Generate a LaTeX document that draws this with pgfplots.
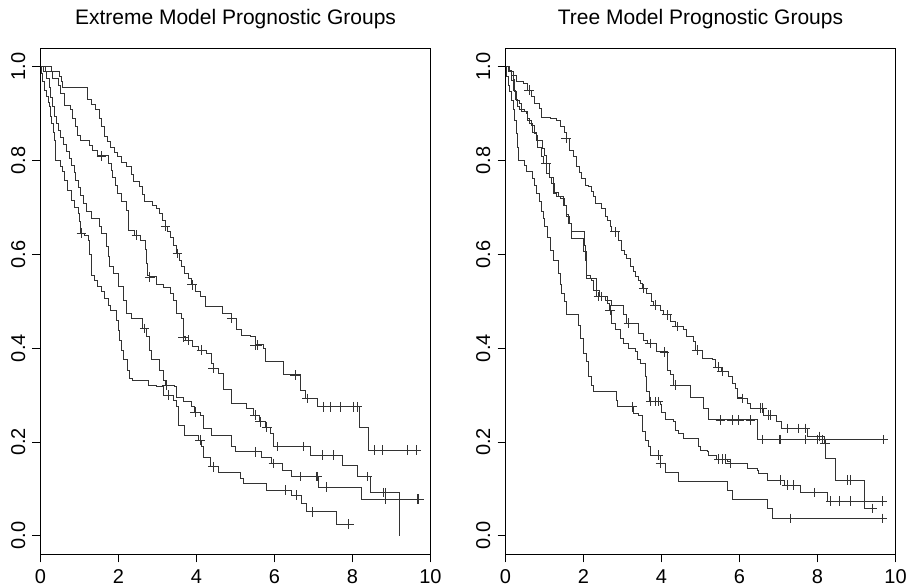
\documentclass[border=0pt]{standalone}
\usepackage{fontspec}
\setmainfont{Liberation Sans}
\usepackage{pgfplots}
\pgfplotsset{compat=1.18}
\pgfplotsset{
  km/.style={const plot, no marks, black!80, line width=0.8pt},
  cens/.style={only marks, mark=+, mark size=4.8pt, black!80, mark options={line width=0.7pt}},
  rpanel/.style={
    scale only axis, width=390pt, height=506.5pt,
    xmin=0, xmax=10, ymin=-0.04, ymax=1.04,
    xtick={0,2,4,6,8,10}, ytick={0,0.2,0.4,0.6,0.8,1.0},
    xtick pos=bottom, ytick pos=left,
    tick align=outside, major tick length=8pt,
    tick style={black, line width=0.8pt},
    axis line style={black, line width=0.9pt},
    /pgf/number format/assume math mode=true,
    yticklabel={\pgfmathprintnumber[fixed, fixed zerofill, precision=1]{\tick}},
    ticklabel style={font=\fontsize{20}{24}\selectfont},
    xticklabel style={inner sep=0pt, anchor=north, yshift=-7pt},
    yticklabel style={inner sep=0pt, xshift=-7pt, rotate=90, anchor=south},
    title style={font=\fontsize{21}{24}\selectfont, at={(0.5,1)}, anchor=base, yshift=17pt},
  }
}
\begin{document}
\begin{tikzpicture}
\useasboundingbox (0,0) rectangle (906pt,588pt);
\begin{axis}[rpanel, at={(40.5pt,33.5pt)}, anchor=south west, title={Extreme Model Prognostic Groups}]
% A
\addplot[km] coordinates {(0,1) (0.27,0.99) (0.49,0.98) (0.53,0.968) (0.57,0.957) (1.19,0.93) (1.30,0.92) (1.40,0.91) (1.50,0.89) (1.55,0.872) (1.63,0.851) (1.72,0.84) (1.80,0.829) (1.90,0.818) (1.97,0.808) (2.07,0.797) (2.20,0.787) (2.32,0.77) (2.37,0.755) (2.54,0.744) (2.62,0.728) (2.67,0.712) (2.88,0.705) (2.97,0.697) (3.06,0.688) (3.13,0.672) (3.19,0.659) (3.26,0.648) (3.32,0.637) (3.40,0.62) (3.49,0.602) (3.55,0.588) (3.62,0.574) (3.70,0.56) (3.80,0.548) (3.87,0.535) (3.98,0.522) (4.09,0.51) (4.22,0.488) (4.67,0.474) (4.90,0.464) (5.03,0.439) (5.16,0.428) (5.37,0.424) (5.50,0.407) (5.72,0.40) (5.76,0.371) (6.23,0.343) (6.66,0.31) (6.79,0.293) (7.09,0.275) (8.18,0.23) (8.41,0.183) (9.74,0.183)};
\addplot[cens] coordinates {(3.21,0.659) (3.51,0.602) (3.89,0.535) (4.90,0.464) (5.50,0.407) (5.55,0.407) (6.53,0.343) (6.83,0.293) (7.24,0.275) (7.43,0.275) (7.69,0.275) (8.03,0.275) (8.12,0.275) (8.56,0.183) (8.76,0.183) (9.40,0.183) (9.64,0.183)};
% B
\addplot[km] coordinates {(0,1) (0.12,0.99) (0.30,0.975) (0.45,0.96) (0.52,0.943) (0.60,0.918) (0.76,0.908) (0.83,0.89) (0.90,0.872) (0.95,0.854) (1.03,0.843) (1.25,0.833) (1.32,0.822) (1.45,0.81) (1.75,0.794) (1.82,0.78) (1.85,0.765) (1.92,0.748) (1.97,0.73) (2.07,0.712) (2.20,0.694) (2.25,0.652) (2.40,0.641) (2.55,0.63) (2.68,0.61) (2.72,0.58) (2.75,0.556) (2.80,0.552) (2.96,0.535) (3.15,0.53) (3.32,0.517) (3.40,0.502) (3.48,0.474) (3.62,0.463) (3.66,0.424) (3.72,0.417) (3.90,0.403) (4.05,0.396) (4.26,0.389) (4.39,0.367) (4.43,0.357) (4.56,0.346) (4.69,0.311) (4.90,0.282) (5.29,0.272) (5.46,0.257) (5.60,0.243) (5.76,0.232) (5.89,0.218) (5.97,0.19) (6.92,0.172) (7.73,0.149) (8.12,0.126) (8.46,0.092) (9.19,0.0)};
\addplot[cens] coordinates {(1.56,0.81) (2.46,0.641) (2.80,0.552) (3.66,0.424) (3.78,0.417) (4.13,0.396) (4.43,0.357) (5.50,0.257) (5.63,0.243) (5.80,0.232) (6.08,0.19) (6.74,0.19) (7.22,0.172) (7.52,0.172) (8.37,0.126) (8.80,0.092) (8.84,0.092)};
% C
\addplot[km] coordinates {(0,1) (0.08,0.99) (0.15,0.975) (0.22,0.955) (0.26,0.935) (0.30,0.915) (0.36,0.895) (0.40,0.88) (0.45,0.865) (0.52,0.85) (0.58,0.835) (0.66,0.82) (0.74,0.805) (0.80,0.79) (0.86,0.775) (0.90,0.758) (0.96,0.742) (1.03,0.725) (1.10,0.708) (1.17,0.692) (1.30,0.677) (1.52,0.66) (1.55,0.645) (1.68,0.616) (1.73,0.595) (1.77,0.574) (1.86,0.559) (1.99,0.531) (2.12,0.502) (2.20,0.474) (2.33,0.463) (2.62,0.442) (2.72,0.424) (2.80,0.396) (2.85,0.375) (3.06,0.353) (3.14,0.332) (3.20,0.321) (3.44,0.318) (3.49,0.296) (3.66,0.286) (3.87,0.275) (3.94,0.264) (4.09,0.257) (4.17,0.229) (4.39,0.215) (4.90,0.19) (4.99,0.179) (5.67,0.168) (5.93,0.154) (6.19,0.14) (6.44,0.126) (7.13,0.104) (8.24,0.078) (9.74,0.078)};
\addplot[cens] coordinates {(2.67,0.442) (3.23,0.321) (3.96,0.264) (5.50,0.179) (5.97,0.154) (6.66,0.126) (7.07,0.126) (7.10,0.126) (7.32,0.104) (8.84,0.078) (9.66,0.078) (9.70,0.078)};
% D
\addplot[km] coordinates {(0,1) (0.03,0.985) (0.06,0.968) (0.10,0.95) (0.15,0.936) (0.20,0.925) (0.23,0.915) (0.26,0.895) (0.28,0.879) (0.32,0.86) (0.36,0.844) (0.38,0.801) (0.50,0.787) (0.57,0.776) (0.62,0.758) (0.70,0.737) (0.79,0.716) (0.87,0.701) (0.96,0.687) (1.00,0.67) (1.03,0.645) (1.13,0.641) (1.22,0.63) (1.26,0.6) (1.30,0.556) (1.39,0.545) (1.47,0.531) (1.56,0.52) (1.64,0.506) (1.73,0.492) (1.80,0.481) (1.95,0.46) (1.99,0.438) (2.03,0.417) (2.08,0.395) (2.12,0.375) (2.24,0.353) (2.29,0.336) (2.36,0.332) (2.76,0.321) (2.97,0.318) (3.14,0.30) (3.40,0.289) (3.49,0.275) (3.53,0.236) (3.70,0.215) (4.05,0.204) (4.13,0.19) (4.17,0.168) (4.35,0.147) (4.56,0.136) (5.12,0.122) (5.20,0.112) (5.80,0.097) (6.44,0.087) (6.70,0.069) (6.83,0.051) (7.58,0.025) (8.03,0.025)};
\addplot[cens] coordinates {(1.05,0.645) (3.27,0.30) (4.09,0.204) (4.43,0.147) (6.27,0.097) (6.57,0.087) (6.98,0.051) (7.90,0.025)};
\end{axis}
\begin{axis}[rpanel, at={(505.5pt,33.5pt)}, anchor=south west, title={Tree Model Prognostic Groups}]
% E
\addplot[km] coordinates {(0,1) (0.11,0.993) (0.15,0.982) (0.28,0.968) (0.45,0.964) (0.56,0.95) (0.67,0.936) (0.75,0.922) (0.88,0.911) (0.93,0.893) (1.14,0.89) (1.31,0.886) (1.40,0.872) (1.50,0.86) (1.57,0.847) (1.65,0.822) (1.74,0.808) (1.83,0.787) (1.90,0.775) (1.95,0.762) (2.04,0.748) (2.12,0.744) (2.20,0.735) (2.25,0.723) (2.30,0.709) (2.47,0.698) (2.55,0.68) (2.62,0.673) (2.68,0.659) (2.72,0.648) (2.89,0.63) (2.98,0.609) (3.05,0.60) (3.11,0.591) (3.20,0.574) (3.27,0.563) (3.32,0.552) (3.40,0.545) (3.45,0.538) (3.50,0.527) (3.62,0.517) (3.75,0.499) (3.80,0.492) (3.97,0.481) (4.05,0.471) (4.22,0.456) (4.35,0.446) (4.57,0.439) (4.63,0.424) (4.82,0.414) (4.88,0.396) (5.04,0.378) (5.30,0.375) (5.38,0.36) (5.53,0.35) (5.72,0.339) (5.81,0.325) (5.90,0.314) (5.94,0.296) (6.05,0.293) (6.20,0.282) (6.28,0.272) (6.62,0.257) (6.94,0.243) (7.07,0.229) (7.74,0.212) (8.17,0.197) (8.21,0.165) (8.47,0.119) (9.19,0.058) (9.50,0.058)};
\addplot[cens] coordinates {(0.60,0.95) (1.55,0.847) (2.81,0.648) (3.54,0.527) (3.84,0.492) (4.14,0.471) (4.40,0.446) (4.91,0.396) (5.45,0.36) (5.55,0.35) (6.07,0.293) (6.54,0.272) (6.58,0.272) (6.75,0.257) (6.79,0.257) (7.22,0.229) (7.52,0.229) (7.69,0.229) (8.04,0.212) (8.19,0.197) (8.77,0.119) (8.85,0.119) (9.41,0.058)};
% F
\addplot[km] coordinates {(0,1) (0.10,0.99) (0.19,0.972) (0.23,0.947) (0.27,0.929) (0.36,0.922) (0.40,0.904) (0.53,0.901) (0.57,0.886) (0.66,0.876) (0.74,0.858) (0.78,0.843) (0.95,0.825) (1.00,0.81) (1.04,0.794) (1.13,0.765) (1.17,0.751) (1.26,0.733) (1.35,0.723) (1.48,0.705) (1.55,0.685) (1.61,0.666) (1.70,0.648) (2.02,0.62) (2.04,0.588) (2.08,0.556) (2.17,0.549) (2.34,0.524) (2.40,0.51) (2.55,0.502) (2.72,0.492) (3.02,0.471) (3.10,0.453) (3.41,0.431) (3.54,0.417) (3.65,0.41) (3.88,0.392) (4.14,0.353) (4.22,0.343) (4.30,0.321) (4.74,0.296) (5.08,0.272) (5.21,0.247) (6.45,0.205) (9.72,0.205)};
\addplot[cens] coordinates {(1.04,0.794) (2.47,0.51) (3.15,0.453) (3.71,0.41) (4.08,0.392) (4.35,0.321) (5.51,0.247) (5.81,0.247) (5.98,0.247) (6.28,0.247) (6.58,0.205) (7.01,0.205) (7.05,0.205) (7.69,0.205) (7.99,0.205) (8.12,0.205) (9.69,0.205)};
% G
\addplot[km] coordinates {(0,1) (0.08,0.99) (0.15,0.97) (0.20,0.95) (0.25,0.93) (0.30,0.915) (0.36,0.908) (0.49,0.904) (0.57,0.89) (0.62,0.879) (0.70,0.861) (0.79,0.854) (0.83,0.829) (0.92,0.808) (0.96,0.794) (1.05,0.773) (1.13,0.765) (1.22,0.73) (1.30,0.723) (1.42,0.72) (1.52,0.705) (1.57,0.68) (1.65,0.666) (1.70,0.634) (1.99,0.606) (2.08,0.549) (2.21,0.545) (2.25,0.524) (2.33,0.51) (2.60,0.496) (2.66,0.481) (2.72,0.453) (2.81,0.439) (2.94,0.421) (3.02,0.41) (3.15,0.40) (3.32,0.392) (3.37,0.375) (3.45,0.368) (3.58,0.339) (3.62,0.307) (3.70,0.286) (3.97,0.279) (4.01,0.264) (4.09,0.247) (4.31,0.243) (4.35,0.225) (4.44,0.218) (4.57,0.208) (4.95,0.19) (5.00,0.183) (5.17,0.179) (5.21,0.172) (5.40,0.163) (5.68,0.158) (5.77,0.154) (6.20,0.144) (6.45,0.14) (6.49,0.133) (6.71,0.119) (7.14,0.108) (7.57,0.092) (8.25,0.074) (9.75,0.074)};
\addplot[cens] coordinates {(2.38,0.51) (2.68,0.481) (3.72,0.286) (3.84,0.286) (3.92,0.286) (5.47,0.163) (5.56,0.163) (5.64,0.163) (5.77,0.154) (7.05,0.119) (7.22,0.108) (7.39,0.108) (7.91,0.092) (8.34,0.074) (8.55,0.074) (8.85,0.074) (9.67,0.074)};
% H
\addplot[km] coordinates {(0,1) (0.03,0.979) (0.07,0.961) (0.11,0.947) (0.15,0.929) (0.19,0.908) (0.24,0.886) (0.28,0.858) (0.30,0.829) (0.33,0.80) (0.49,0.79) (0.53,0.776) (0.70,0.762) (0.74,0.748) (0.79,0.73) (0.87,0.712) (0.92,0.691) (0.96,0.677) (1.00,0.66) (1.07,0.637) (1.14,0.609) (1.22,0.588) (1.35,0.559) (1.40,0.535) (1.44,0.517) (1.50,0.50) (1.57,0.471) (1.87,0.449) (1.91,0.421) (1.99,0.389) (2.08,0.371) (2.12,0.339) (2.21,0.321) (2.25,0.307) (2.85,0.289) (2.88,0.275) (3.28,0.261) (3.41,0.257) (3.50,0.222) (3.58,0.204) (3.67,0.19) (3.71,0.172) (3.97,0.154) (4.09,0.136) (4.44,0.115) (5.68,0.097) (5.81,0.077) (6.71,0.058) (6.84,0.037) (9.67,0.037)};
\addplot[cens] coordinates {(3.24,0.275) (3.92,0.172) (3.97,0.154) (7.31,0.037) (9.67,0.037)};
\end{axis}
\end{tikzpicture}
\end{document}
